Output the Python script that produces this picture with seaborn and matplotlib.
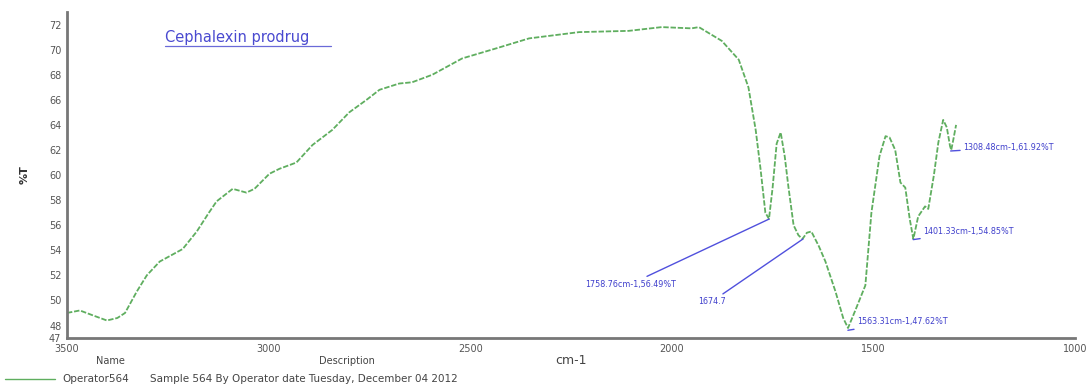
import matplotlib
matplotlib.use('Agg')
import matplotlib.pyplot as plt
import seaborn as sns
import pandas as pd

# spectrum
wavenumber = [3500, 3468, 3435, 3401, 3375, 3356, 3327, 3302, 3270, 3213, 3178, 3150, 3129,
              3089, 3055, 3035, 2998, 2973, 2931, 2891, 2842, 2800, 2757, 2725, 2676, 2644,
              2594, 2520, 2436, 2354, 2230, 2107, 2025, 1951, 1933, 1876, 1834, 1810, 1792,
              1780, 1768, 1759, 1750, 1740, 1730, 1720, 1711, 1698, 1686, 1676, 1665, 1654,
              1635, 1619, 1594, 1575, 1563, 1545, 1520, 1505, 1485, 1470, 1460, 1446, 1433,
              1421, 1410, 1401, 1389, 1372, 1364, 1350, 1339, 1327, 1318, 1310, 1307, 1302, 1295]
transmittance = [49.0, 49.2, 48.8, 48.4, 48.6, 49.0, 50.7, 52.0, 53.1, 54.1, 55.5, 56.9, 57.9,
                 58.9, 58.6, 58.9, 60.1, 60.5, 61.0, 62.4, 63.6, 65.0, 66.0, 66.8, 67.3, 67.4,
                 68.0, 69.3, 70.1, 70.9, 71.4, 71.5, 71.8, 71.7, 71.8, 70.7, 69.2, 67.0, 63.6,
                 60.5, 57.0, 56.5, 59.0, 62.5, 63.4, 61.5, 59.1, 56.0, 55.2, 54.9, 55.4, 55.5,
                 54.3, 53.1, 50.7, 48.6, 47.8, 49.2, 51.2, 57.0, 61.5, 63.1, 63.0, 62.0, 59.4,
                 59.0, 56.5, 54.9, 56.7, 57.5, 57.3, 60.0, 62.6, 64.4, 63.8, 62.3, 62.0, 62.8, 64.0]

# peak picks
peak_x = [1758.76, 1674.7, 1563.31, 1401.33, 1308.48]
peak_y = [56.49, 54.9, 47.62, 54.85, 61.92]
peak_labels = ['1758.76cm-1,56.49%T', '1674.7', '1563.31cm-1,47.62%T',
               '1401.33cm-1,54.85%T', '1308.48cm-1,61.92%T']
label_pos = [(1990, 51.3), (1867, 49.9), (1540, 48.3), (1376, 55.5), (1277, 62.2)]
label_ha = ['right', 'right', 'left', 'left', 'left']

df = pd.DataFrame({'cm-1': wavenumber, '%T': transmittance})

sns.set_style('white')
plt.rcParams['font.family'] = ['DejaVu Sans']

fig = plt.figure(figsize=(10.87, 3.89), dpi=100)
ax = fig.add_axes([0.0616, 0.131, 0.9274, 0.838])

sns.lineplot(data=df, x='cm-1', y='%T', ax=ax, sort=False, color='#5fae5f',
             linewidth=1.3, linestyle=(0, (3, 1)))

for px, py, lab, pos, ha in zip(peak_x, peak_y, peak_labels, label_pos, label_ha):
    ax.annotate(lab, xy=(px, py), xytext=pos, fontsize=5.8, color='#4040cc',
                ha=ha, va='center',
                arrowprops=dict(arrowstyle='-', color='#5050dd', lw=1.0, shrinkA=0, shrinkB=0))

ax.text(0.097, 0.923, 'Cephalexin prodrug', transform=ax.transAxes, fontsize=10.5,
        color='#4a4ad0', va='center')
ax.plot([0.097, 0.262], [0.895, 0.895], transform=ax.transAxes, color='#6a6ad8', lw=0.9)

ax.set_xlim(3500, 1000)
ax.set_ylim(47, 73)
ax.set_xticks([3500, 3000, 2500, 2000, 1500, 1000])
ax.set_yticks([47, 48] + list(range(50, 73, 2)))
ax.tick_params(axis='both', labelsize=7, colors='#555555', length=3, width=1, pad=1)
ax.set_xlabel('cm-1', fontsize=9, color='#444444', labelpad=0)
ax.set_ylabel('%T', fontsize=8, color='#333333', labelpad=14, fontweight='bold')

for s in ['top', 'right']:
    ax.spines[s].set_visible(False)
for s in ['left', 'bottom']:
    ax.spines[s].set_color('#777777')
    ax.spines[s].set_linewidth(2)

# legend block under the chart
fig.text(110 / 1087, 1 - 361 / 389, 'Name', fontsize=7, color='#444444', va='center', ha='center')
fig.text(347 / 1087, 1 - 361 / 389, 'Description', fontsize=7, color='#444444', va='center', ha='center')
fig.add_artist(plt.Line2D([5 / 1087, 55 / 1087], [1 - 379 / 389, 1 - 379 / 389],
                          color='#5fae5f', lw=1.0))
fig.text(62 / 1087, 1 - 379 / 389, 'Operator564', fontsize=7.5, color='#444444', va='center')
fig.text(150 / 1087, 1 - 379 / 389, 'Sample 564 By Operator date Tuesday, December 04 2012',
         fontsize=7.5, color='#444444', va='center')

fig.savefig('out.png', dpi=100)
